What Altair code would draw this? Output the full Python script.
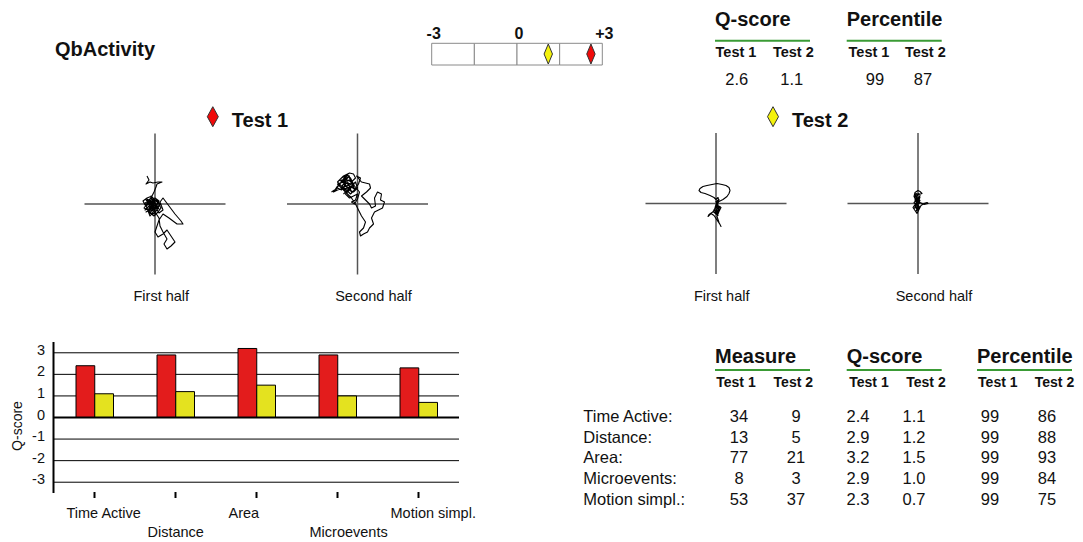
import altair as alt
import pandas as pd

FONT = "Liberation Sans"
M = 8  # page margin: reference pixel -> canvas pixel


def X(v):
    return v - M


def Y(v):
    return v - M


# ---------------- data ----------------
title_text = "QbActivity"
tests = ["Test 1", "Test 2"]
test_colors = ["#f00a0a", "#f4f20c"]
bar_colors = ["#e31c1c", "#e4e21f"]
overall_qscore = [2.6, 1.1]
overall_percentile = [99, 87]
scale_cells = [-3, -1.5, 0, 1.5, 3]
scale_ticks = [-3, 0, 3]
scale_tick_labels = ["-3", "0", "+3"]

measures = ["Time Active", "Distance", "Area", "Microevents", "Motion simpl."]
measure_t1 = [34, 13, 77, 8, 53]
measure_t2 = [9, 5, 21, 3, 37]
qscore_t1 = [2.4, 2.9, 3.2, 2.9, 2.3]
qscore_t2 = [1.1, 1.2, 1.5, 1.0, 0.7]
percentile_t1 = [99, 99, 99, 99, 99]
percentile_t2 = [86, 88, 93, 84, 75]
qscore_axis_ticks = [3, 2, 1, 0, -1, -2, -3]
halves = ["First half", "Second half"]

# movement traces (offsets from arena centre)
t1_first_x = [-8, -6, -9, -5, -2, 3, 7, 2, 1, -1, -3,
              -8, -12, -10, -6, -3, -7, -11, -8, -4, 0, 4, 2, -2, -5, -1, 3, 6, 3, -1, -5,
              -9, -6, -2, 2, 5, 1, -3, -6, -3, 1, 4, 8, 5, 8,
              14, 20, 26, 28, 22, 14, 8,
              4, 2, 0, 3, 8, 12, 16, 20, 16, 12, 9, 12, 8, 5, 4,
              0, -4, -8, -4, 0, -3, 2, -2, -6, -1, 3, 0,
              -9, -5, -10, -4, -8, -1, -6, 1, -3, 4, -2, -10, -5, 2, -7, 0, -4, 5, -9, -2]
t1_first_y = [28, 24, 20, 22, 21, 22, 22, 20, 17, 12, 8,
              6, 3, -1, 2, -2, -6, -4, 0, 4, 6, 3, -1, -5, -9, -12, -8, -4, 1, -2, 1,
              -2, -8, -10, -6, 0, 4, 2, -3, -7, -4, -9, -6, 2, 6,
              -2, -10, -17, -20, -20, -14, -10,
              -16, -22, -28, -33, -30, -26, -32, -38, -42, -45, -40, -35, -28, -22, -14,
              -8, -3, 2, 6, 2, -4, -2, 3, -1, -6, -3, 0,
              4, -1, -6, -4, 5, 1, -9, -10, -2, -5, 5, 1, -12, -3, 3, -7, 8, -1, -8, -4]
t1_second_x = [-26, -20, -16, -12, -18, -14, -8, -4, -2, -6, -10, -14, -10, -6, -2, 0, -4, -8, -12, -8,
               -4, 0, -2, -6, -3, 0, 2, -3, -7, -11, -16, -20, -16, -11, -7, -3, 1, 3, -1,
               4, 8, 12, 13, 9, 4,
               8, 12, 14, 18, 17, 20, 24, 23, 27, 25, 21, 17,
               14, 16, 12, 10, 6, 3, 2, 6, 8, 4, 1, -2, -6, -10, -14, -20, -24,
               -20, -12, -18, -8, -14, -6, -16, -10, -4, -12, -20, -8, -2, -10, -16, -6, -12, -22, -8, -14]
t1_second_y = [12, 16, 14, 20, 24, 28, 31, 30, 26, 22, 24, 20, 16, 18, 22, 16, 12, 14, 10, 6,
               8, 10, 4, 2, 0, 5, 12, 18, 26, 29, 26, 22, 18, 14, 10, 14, 20, 26, 28,
               22, 21, 20, 16, 12, 8,
               4, 0, -4, -2, 6, 12, 10, 4, 2, -4, -6, -8,
               -14, -20, -24, -28, -30, -32, -28, -24, -18, -12, -6, 0, 6, 10, 16, 14, 12,
               18, 26, 20, 28, 22, 20, 16, 30, 18, 12, 20, 24, 14, 20, 24, 12, 28, 14, 16, 10]
t2_first_x = [0, 3, 7, 11, 13, 14, 13, 10, 6, 1, -4, -9, -13, -16, -17, -15, -11, -6, -2, 0,
              2, 3, 1, 3, 0, 2, -1, -4, -7, -8, -5, -2, 0, 2, 4, 5, 3, 1, 3, 5, 2, -1, 1, 3, 0, 2,
              1, 3, -1, 2, -3, 0, 4, 1, -2, 2, 0, 3]
t2_first_y = [0, 2, 4, 7, 10, 13, 16, 18, 19, 20, 19, 18, 17, 15, 13, 11, 10, 8, 6, 4,
              6, 2, -1, -4, -6, -9, -7, -9, -11, -13, -10, -12, -15, -18, -21, -23, -19, -13, -8, -4, -2, -4, 1, 4, 2, -1,
              -2, -6, -9, -12, -8, -4, -3, -10, -6, -1, -3, -8]
t2_second_x = [0, -2, -4, -3, 0, 2, 4, 1, -2, -3, -1, 2, 0, -3, -5, -3, -1, 1, 3, 6, 9, 10, 6, 2,
               -1, -4, -2, 0, 2, -1, -3, 0, 2, 0,
               -2, 1, -3, 0, -2, 1, -4, 2, -1, -3, 0, 1]
t2_second_y = [0, 3, 7, 11, 13, 12, 10, 9, 10, 6, 4, 6, 2, -1, -4, -7, -10, -6, -2, 0, 1, 0, -1, 1,
               -2, -5, -3, -7, -4, 0, 3, 6, 3, -1,
               8, 10, 4, -3, -8, -4, 1, 8, -6, -3, 4, 0]

GREEN = "#3a9b35"
INK = "#111111"
THIN_DIAMOND = "M0,-1L0.42,0L0,1L-0.42,0Z"
WIDE_DIAMOND = "M0,-1L0.55,0L0,1L-0.55,0Z"

layers = []


def label(text, x, y, size=14, weight="normal", align="left", baseline="alphabetic", angle=0):
    return alt.Chart(pd.DataFrame({"t": [text]})).mark_text(
        font=FONT, fontSize=size, fontWeight=weight, align=align,
        baseline=baseline, angle=angle, color=INK
    ).encode(x=alt.value(X(x)), y=alt.value(Y(y)), text="t:N")


def hrule(x1, x2, y, color=INK, width=1.0):
    return alt.Chart(pd.DataFrame({"d": [0]})).mark_rule(color=color, strokeWidth=width).encode(
        x=alt.value(X(x1)), x2=alt.value(X(x2)), y=alt.value(Y(y)))


def point_x(a, b):
    return alt.Scale(type="point", domain=tests, range=[X(a), X(b)], padding=0)


# ---------------- title ----------------
layers.append(label(title_text, 55, 56, 20, "bold"))

# ---------------- score scale bar ----------------
sb_x = alt.Scale(domain=[-3, 3], range=[X(431.7), X(602.3)], nice=False, zero=False)
cells_df = pd.DataFrame({"a": scale_cells[:-1], "b": scale_cells[1:]})
layers.append(alt.Chart(cells_df).mark_rect(fill="white", stroke="#8a8a8a", strokeWidth=1).encode(
    x=alt.X("a:Q", scale=sb_x, axis=None), x2="b:Q",
    y=alt.value(Y(43.3)), y2=alt.value(Y(65))))
layers.append(alt.Chart(pd.DataFrame({"v": scale_ticks, "t": scale_tick_labels})).mark_text(
    font=FONT, fontSize=16, fontWeight="bold", baseline="alphabetic", dx=2, color=INK).encode(
    x=alt.X("v:Q", scale=sb_x, axis=None), y=alt.value(Y(38.5)), text="t:N"))
layers.append(alt.Chart(pd.DataFrame({"test": tests, "q": overall_qscore})).mark_point(
    shape=THIN_DIAMOND, size=400, filled=True, opacity=1, stroke="#333333", strokeWidth=1).encode(
    x=alt.X("q:Q", scale=sb_x, axis=None), y=alt.value(Y(54)),
    color=alt.Color("test:N", scale=alt.Scale(domain=tests, range=test_colors), legend=None)))

# ---------------- overall score table (top right) ----------------
T = 10  # shifted down a little so it stays inside the drawing
layers.append(label("Q-score", 715, 16 + T, 20, "bold"))
layers.append(label("Percentile", 846.7, 16 + T, 20, "bold"))
layers.append(hrule(715, 810, 30.7 + T, GREEN, 2))
layers.append(hrule(846.7, 941.7, 30.7 + T, GREEN, 2))
for a, b in [(736, 793.3), (869, 925.3)]:
    layers.append(alt.Chart(pd.DataFrame({"test": tests})).mark_text(
        font=FONT, fontSize=14.5, fontWeight="bold", baseline="middle", color=INK).encode(
        x=alt.X("test:N", scale=point_x(a, b), axis=None), y=alt.value(Y(42.5 + T)), text="test:N"))
layers.append(alt.Chart(pd.DataFrame({"test": tests, "v": overall_qscore})).mark_text(
    font=FONT, fontSize=16.5, baseline="middle", color=INK).encode(
    x=alt.X("test:N", scale=point_x(736.7, 791.7), axis=None), y=alt.value(Y(70 + T)),
    text=alt.Text("v:Q", format=".1f")))
layers.append(alt.Chart(pd.DataFrame({"test": tests, "v": overall_percentile})).mark_text(
    font=FONT, fontSize=16.5, baseline="middle", color=INK).encode(
    x=alt.X("test:N", scale=point_x(875, 923), axis=None), y=alt.value(Y(70 + T)),
    text=alt.Text("v:Q", format="d")))

# ---------------- test headers ----------------
hdr_x = point_x(212.8, 773)
layers.append(alt.Chart(pd.DataFrame({"test": tests})).mark_point(
    shape=WIDE_DIAMOND, size=400, filled=True, opacity=1, stroke="#333333", strokeWidth=1).encode(
    x=alt.X("test:N", scale=hdr_x, axis=None), y=alt.value(Y(116.7)),
    color=alt.Color("test:N", scale=alt.Scale(domain=tests, range=test_colors), legend=None)))
layers.append(alt.Chart(pd.DataFrame({"test": tests})).mark_text(
    font=FONT, fontSize=20, fontWeight="bold", align="left", baseline="alphabetic", dx=19, color=INK).encode(
    x=alt.X("test:N", scale=hdr_x, axis=None), y=alt.value(Y(126.5)), text="test:N"))


# ---------------- movement panels ----------------
def panel(xs, ys, cx, cy, title, tx):
    half = 70.5
    sx = alt.Scale(domain=[-half, half], range=[X(cx - half), X(cx + half)], nice=False, zero=False)
    sy = alt.Scale(domain=[-half, half], range=[Y(cy + half), Y(cy - half)], nice=False, zero=False)
    cross = pd.DataFrame({"x1": [-half, 0], "x2": [half, 0], "y1": [0, -half], "y2": [0, half]})
    out = [
        alt.Chart(cross).mark_rule(color="#555555", strokeWidth=1.5).encode(
            x=alt.X("x1:Q", scale=sx, axis=None), x2="x2:Q",
            y=alt.Y("y1:Q", scale=sy, axis=None), y2="y2:Q"),
        alt.Chart(pd.DataFrame({"i": list(range(len(xs))), "x": xs, "y": ys})).mark_line(
            color="black", strokeWidth=1.1, strokeJoin="round").encode(
            x=alt.X("x:Q", scale=sx, axis=None), y=alt.Y("y:Q", scale=sy, axis=None), order="i:Q"),
        label(title, tx, 301, 14.5, "normal", "center"),
    ]
    return out


layers += panel(t1_first_x, t1_first_y, 155, 204, halves[0], 161.3)
layers += panel(t1_second_x, t1_second_y, 357.5, 204, halves[1], 373.5)
layers += panel(t2_first_x, t2_first_y, 716, 203.5, halves[0], 721.7)
layers += panel(t2_second_x, t2_second_y, 918, 203.5, halves[1], 934)

# ---------------- Q-score bar chart ----------------
bx = alt.Scale(domain=measures, range=[X(54), X(459)], paddingInner=0, paddingOuter=0)
by = alt.Scale(domain=[-3.5, 3.5], range=[Y(493), Y(342)], nice=False)
layers.append(alt.Chart(pd.DataFrame({"v": [t for t in qscore_axis_ticks if t != 0]})).mark_rule(
    color="black", strokeWidth=1).encode(
    y=alt.Y("v:Q", scale=by, axis=None), x=alt.value(X(54)), x2=alt.value(X(459))))
bars_df = pd.DataFrame({
    "measure": measures * 2,
    "test": [tests[0]] * len(measures) + [tests[1]] * len(measures),
    "q": qscore_t1 + qscore_t2,
})
layers.append(alt.Chart(bars_df).mark_bar(stroke="black", strokeWidth=1).encode(
    x=alt.X("measure:N", scale=bx, axis=None),
    xOffset=alt.XOffset("test:N", scale=alt.Scale(domain=tests, range=[22, 59.5],
                                                  paddingInner=0, paddingOuter=0)),
    y=alt.Y("q:Q", scale=by, axis=None), y2=alt.datum(0),
    color=alt.Color("test:N", scale=alt.Scale(domain=tests, range=bar_colors), legend=None)))
layers.append(alt.Chart(pd.DataFrame({"v": [0]})).mark_rule(color="black", strokeWidth=2).encode(
    y=alt.Y("v:Q", scale=by, axis=None), x=alt.value(X(54)), x2=alt.value(X(459))))
layers.append(alt.Chart(pd.DataFrame({"a": [-3.5], "b": [3.5]})).mark_rule(color="black", strokeWidth=2).encode(
    y=alt.Y("a:Q", scale=by, axis=None), y2="b:Q", x=alt.value(X(53.5))))
layers.append(alt.Chart(pd.DataFrame({"measure": measures})).mark_rule(color="black", strokeWidth=2).encode(
    x=alt.X("measure:N", scale=bx, axis=None, bandPosition=0.5),
    y=alt.value(Y(492)), y2=alt.value(Y(498))))
for subset, base in [(measures[0::2], 518), (measures[1::2], 536.5)]:
    layers.append(alt.Chart(pd.DataFrame({"measure": subset})).mark_text(
        font=FONT, fontSize=14.5, align="left", baseline="alphabetic", dx=-28, color=INK).encode(
        x=alt.X("measure:N", scale=bx, axis=None, bandPosition=0.5),
        y=alt.value(Y(base)), text="measure:N"))
layers.append(alt.Chart(pd.DataFrame({"v": qscore_axis_ticks,
                                      "t": [str(t) for t in qscore_axis_ticks]})).mark_text(
    font=FONT, fontSize=14.5, align="right", baseline="middle", dy=-2, color=INK).encode(
    y=alt.Y("v:Q", scale=by, axis=None), x=alt.value(X(45)), text="t:N"))
layers.append(label("Q-score", 17.5, 426, 14, "normal", "center", "middle", 270))

# ---------------- detail table (bottom right) ----------------
P = -3  # percentile block nudged left to stay inside the drawing
layers.append(label("Measure", 715, 363, 20, "bold"))
layers.append(label("Q-score", 846.7, 363, 20, "bold"))
layers.append(label("Percentile", 980 + P, 363, 20, "bold"))
layers.append(hrule(715, 810, 370, GREEN, 2))
layers.append(hrule(846.7, 941.7, 370, GREEN, 2))
layers.append(hrule(980 + P, 1075 + P, 370, GREEN, 2))
for a, b in [(736, 793.3), (869, 926), (1000.8 + P, 1057.5 + P)]:
    layers.append(alt.Chart(pd.DataFrame({"test": tests})).mark_text(
        font=FONT, fontSize=14, fontWeight="bold", baseline="middle", color=INK).encode(
        x=alt.X("test:N", scale=point_x(a, b), axis=None), y=alt.value(Y(383)), text="test:N"))

row_y = alt.Scale(type="point", domain=measures, range=[Y(416.7), Y(500)], padding=0)
layers.append(alt.Chart(pd.DataFrame({"measure": measures, "lab": [m + ":" for m in measures]})).mark_text(
    font=FONT, fontSize=16.5, align="left", baseline="middle", color=INK).encode(
    y=alt.Y("measure:N", scale=row_y, axis=None), x=alt.value(X(583.3)), text="lab:N"))

groups = [
    (measure_t1, measure_t2, (739, 796), "d"),
    (qscore_t1, qscore_t2, (858, 914), ".1f"),
    (percentile_t1, percentile_t2, (993 + P, 1050 + P), "d"),
]
for v1, v2, (a, b), fmt in groups:
    df = pd.DataFrame({
        "measure": measures * 2,
        "test": [tests[0]] * len(measures) + [tests[1]] * len(measures),
        "v": list(v1) + list(v2),
    })
    layers.append(alt.Chart(df).mark_text(font=FONT, fontSize=16.5, baseline="middle", color=INK).encode(
        x=alt.X("test:N", scale=point_x(a, b), axis=None),
        y=alt.Y("measure:N", scale=row_y, axis=None),
        text=alt.Text("v:Q", format=fmt)))

chart = alt.layer(*layers).resolve_scale(
    x="independent", y="independent", color="independent"
).properties(
    width=1067, height=530, padding=0, autosize=alt.AutoSizeParams(type="none"), background="white"
).configure_view(stroke=None)

chart.save("out.html", embed_options={"renderer": "svg", "actions": False})
